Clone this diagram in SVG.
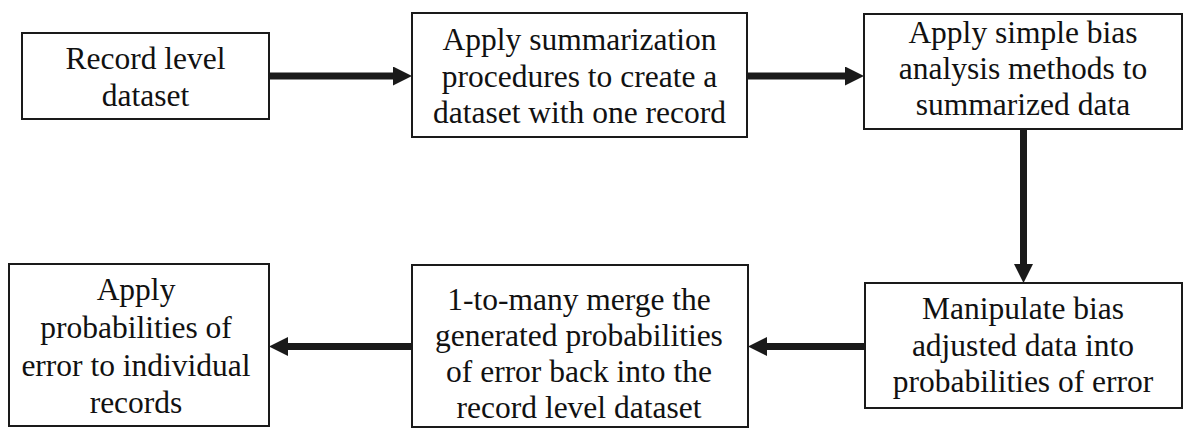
<svg xmlns="http://www.w3.org/2000/svg" width="1204" height="444" viewBox="0 0 1204 444">
<style>
.box{fill:#fff;stroke:#1a1a1a;stroke-width:2}
.t{font-family:'Liberation Serif','Times New Roman',Times,serif;font-size:31.5px;fill:#111;text-anchor:middle}
.c{stroke:#1a1a1a;stroke-width:7;fill:none}
</style>
<defs>
<marker id="ah" markerUnits="userSpaceOnUse" markerWidth="20" markerHeight="20" refX="3" refY="9.5" orient="auto">
<path d="M0,0 L19,9.5 L0,19 z" fill="#1a1a1a"/>
</marker>
</defs>
<g id="connectors">
<line class="c" x1="269" y1="76" x2="396" y2="76" marker-end="url(#ah)"/>
<line class="c" x1="747" y1="76" x2="848" y2="76" marker-end="url(#ah)"/>
<line class="c" x1="1023.5" y1="129" x2="1023.5" y2="267" marker-end="url(#ah)"/>
<line class="c" x1="865" y1="346.5" x2="764" y2="346.5" marker-end="url(#ah)"/>
<line class="c" x1="412" y1="346.5" x2="285" y2="346.5" marker-end="url(#ah)"/>
</g>
<g id="n1">
<rect class="box" x="22" y="33" width="247" height="86"/>
<text class="t" font-family="Liberation Serif, serif"><tspan x="145.5" y="69">Record level</tspan><tspan x="145.5" y="106">dataset</tspan></text>
</g>
<g id="n2">
<rect class="box" x="412" y="13" width="335" height="124"/>
<text class="t"><tspan x="579.5" y="50">Apply summarization</tspan><tspan x="579.5" y="86.5">procedures to create a</tspan><tspan x="579.5" y="123">dataset with one record</tspan></text>
</g>
<g id="n3">
<rect class="box" x="864" y="14" width="318" height="115"/>
<text class="t"><tspan x="1023" y="43">Apply simple bias</tspan><tspan x="1023" y="79">analysis methods to</tspan><tspan x="1023" y="115">summarized data</tspan></text>
</g>
<g id="n4">
<rect class="box" x="865" y="283" width="317" height="125"/>
<text class="t"><tspan x="1023" y="319">Manipulate bias</tspan><tspan x="1023" y="355.5">adjusted data into</tspan><tspan x="1023" y="392">probabilities of error</tspan></text>
</g>
<g id="n5">
<rect class="box" x="412" y="265" width="336" height="162"/>
<text class="t"><tspan x="579" y="310">1-to-many merge the</tspan><tspan x="579" y="346">generated probabilities</tspan><tspan x="579" y="382">of error back into the</tspan><tspan x="579" y="418">record level dataset</tspan></text>
</g>
<g id="n6">
<rect class="box" x="9" y="264" width="260" height="162"/>
<text class="t"><tspan x="136" y="300">Apply</tspan><tspan x="136" y="338">probabilities of</tspan><tspan x="136" y="375.5">error to individual</tspan><tspan x="136" y="413">records</tspan></text>
</g>
</svg>
